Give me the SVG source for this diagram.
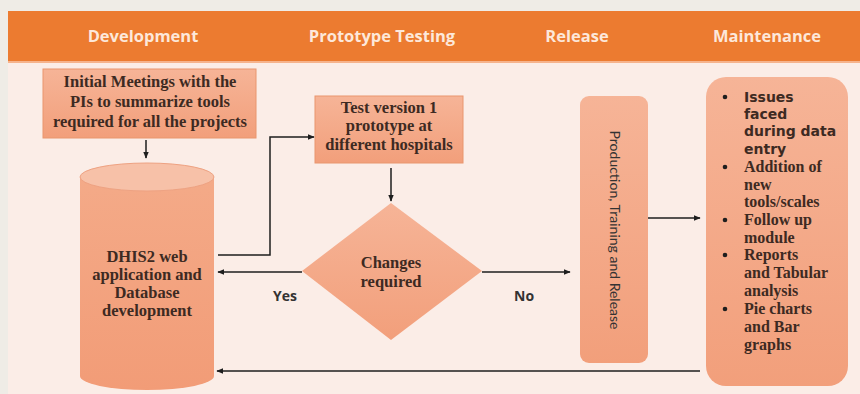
<svg xmlns="http://www.w3.org/2000/svg" width="860" height="394" viewBox="0 0 860 394">
<defs>
<linearGradient id="gBox" x1="0" y1="0" x2="0" y2="1">
<stop offset="0" stop-color="#f6b497"/>
<stop offset="1" stop-color="#f29f7b"/>
</linearGradient>
<linearGradient id="gCyl" x1="0" y1="0" x2="0" y2="1">
<stop offset="0" stop-color="#f4aa88"/>
<stop offset="1" stop-color="#f29c77"/>
</linearGradient>
<marker id="ah" viewBox="0 0 10 10" refX="9" refY="5" markerWidth="7" markerHeight="7" markerUnits="userSpaceOnUse" orient="auto">
<path d="M0,1 L10,5 L0,9 z" fill="#1e1e1e"/>
</marker>
<style>
.hdr{font-family:"Open Sans","Lato",sans-serif;font-weight:bold;font-size:16.5px;fill:#fde8da;text-anchor:middle}
.ser{font-family:"Liberation Serif","DejaVu Serif",serif;font-weight:bold;font-size:16.5px;fill:#3d2a22;text-anchor:middle}
.lst{font-family:"Liberation Serif","DejaVu Serif",serif;font-weight:bold;font-size:16px;fill:#3d2a22}
.sns{font-family:"DejaVu Sans","Open Sans",sans-serif;font-weight:bold;font-size:14px;fill:#3d2a22}
.lbl{font-family:"Open Sans","Lato",sans-serif;font-weight:bold;font-size:14px;fill:#333}
.box{fill:url(#gBox);stroke:#e9966f;stroke-width:1}
.ln{fill:none;stroke:#1e1e1e;stroke-width:1.5}
</style>
</defs>
<rect x="0" y="0" width="860" height="394" fill="#efece6"/>
<rect x="8" y="11" width="852" height="383" fill="#fbede7"/>
<rect x="8" y="11" width="852" height="51" fill="#ec7b30"/>
<rect x="8" y="61" width="852" height="2" fill="#f6b38c"/>
<g id="headers">
<text class="hdr" x="143" y="42">Development</text>
<text class="hdr" x="382" y="42">Prototype Testing</text>
<text class="hdr" x="577" y="42">Release</text>
<text class="hdr" x="767" y="42">Maintenance</text>
</g>
<g id="meetings">
<rect class="box" x="43" y="69" width="213" height="69"/>
<text class="ser" x="150" y="87">Initial Meetings with the</text>
<text class="ser" x="150" y="107">PIs to summarize tools</text>
<text class="ser" x="150" y="127">required for all the projects</text>
</g>
<g id="dhis2">
<path d="M80,177 L80,376 A67,14 0 0 0 214,376 L214,177 Z" fill="url(#gCyl)"/>
<ellipse cx="147" cy="177" rx="67" ry="14" fill="#f7c1a8" stroke="#eea282" stroke-width="1"/>
<text class="ser" x="147" y="262" font-size="17.5">DHIS2 web</text>
<text class="ser" x="147" y="280" font-size="17.5">application and</text>
<text class="ser" x="147" y="298" font-size="17.5">Database</text>
<text class="ser" x="147" y="316" font-size="17.5">development</text>
</g>
<g id="test">
<rect class="box" x="315" y="96" width="148" height="67"/>
<text class="ser" x="389" y="113">Test version 1</text>
<text class="ser" x="389" y="131">prototype at</text>
<text class="ser" x="389" y="150">different hospitals</text>
</g>
<g id="decision">
<polygon points="391,203 482,271 391,340 302,271" fill="url(#gBox)"/>
<text class="ser" x="391" y="268">Changes</text>
<text class="ser" x="391" y="287">required</text>
</g>
<g id="release">
<rect x="580" y="96" width="68" height="267" rx="9" fill="url(#gBox)"/>
<text transform="translate(610,230) rotate(90)" font-family="Lato,'Open Sans',sans-serif" font-size="14" fill="#333" text-anchor="middle">Production, Training and Release</text>
</g>
<g id="maintenance">
<rect x="706" y="77" width="142" height="309" rx="20" fill="url(#gBox)"/>
<g fill="#1e1e1e">
<circle cx="725" cy="97" r="2.3"/>
<circle cx="725" cy="167" r="2.3"/>
<circle cx="725" cy="220" r="2.3"/>
<circle cx="725" cy="255" r="2.3"/>
<circle cx="725" cy="309" r="2.3"/>
</g>
<text class="sns" x="744" y="102">Issues</text>
<text class="sns" x="744" y="119">faced</text>
<text class="sns" x="744" y="136">during data</text>
<text class="sns" x="744" y="154">entry</text>
<text class="lst" x="744" y="172">Addition of</text>
<text class="lst" x="744" y="190">new</text>
<text class="lst" x="744" y="207">tools/scales</text>
<text class="lst" x="744" y="225">Follow up</text>
<text class="lst" x="744" y="243">module</text>
<text class="lst" x="744" y="260">Reports</text>
<text class="lst" x="744" y="278">and Tabular</text>
<text class="lst" x="744" y="296">analysis</text>
<text class="lst" x="744" y="314">Pie charts</text>
<text class="lst" x="744" y="332">and Bar</text>
<text class="lst" x="744" y="350">graphs</text>
</g>
<g id="connectors">
<line class="ln" x1="146" y1="140" x2="146" y2="158" marker-end="url(#ah)"/>
<polyline class="ln" points="218,255 270,255 270,137 314,137" marker-end="url(#ah)"/>
<line class="ln" x1="391" y1="168" x2="391" y2="201" marker-end="url(#ah)"/>
<line class="ln" x1="302" y1="272" x2="218" y2="272" marker-end="url(#ah)"/>
<line class="ln" x1="482" y1="272" x2="570" y2="272" marker-end="url(#ah)"/>
<line class="ln" x1="648" y1="218" x2="700" y2="218" marker-end="url(#ah)"/>
<line class="ln" x1="700" y1="371" x2="217" y2="371" marker-end="url(#ah)"/>
<text class="lbl" x="273" y="301">Yes</text>
<text class="lbl" x="514" y="301">No</text>
</g>
</svg>
